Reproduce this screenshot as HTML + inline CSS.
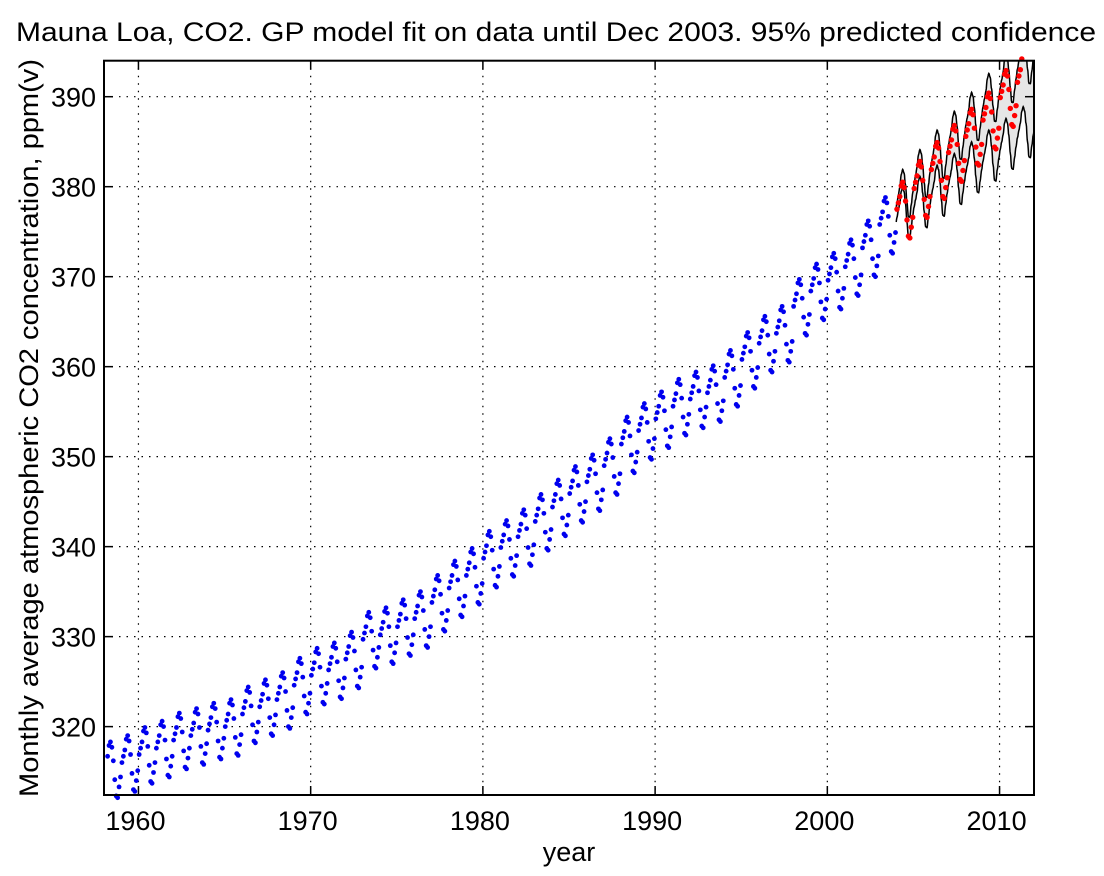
<!DOCTYPE html>
<html><head><meta charset="utf-8"><style>
body{margin:0;background:#fff;font-family:"Liberation Sans",sans-serif}
svg text{font-family:"Liberation Sans",sans-serif;fill:#000}
</style></head><body>
<svg id="chart" width="1104" height="871" viewBox="0 0 1104 871" xmlns="http://www.w3.org/2000/svg">
<text x="556" y="41" font-size="27" text-anchor="middle" textLength="1080" lengthAdjust="spacingAndGlyphs">Mauna Loa, CO2. GP model fit on data until Dec 2003. 95% predicted confidence</text>
<text x="569" y="861" font-size="27" text-anchor="middle">year</text>
<text transform="translate(38,428) rotate(-90)" font-size="27" text-anchor="middle" textLength="738" lengthAdjust="spacingAndGlyphs">Monthly average atmospheric CO2 concentration, ppm(v)</text>
<g id="grid"></g><g id="band"></g><g id="dots"></g><g id="axes"></g>
</svg>
<script>
const years=[1958,1959,1960,1961,1962,1963,1964,1965,1966,1967,1968,1969,1970,1971,1972,1973,1974,1975,1976,1977,1978,1979,1980,1981,1982,1983,1984,1985,1986,1987,1988,1989,1990,1991,1992,1993,1994,1995,1996,1997,1998,1999,2000,2001,2002,2003,2004,2005,2006,2007,2008,2009,2010,2011];
const annualMean=[315.3,316.0,316.9,317.6,318.5,319.0,319.6,320.0,321.4,322.2,323.0,324.6,325.7,326.3,327.5,329.7,330.2,331.1,332.0,333.8,335.4,336.8,338.7,339.9,341.1,342.8,344.4,345.9,347.2,349.0,351.4,352.9,354.2,355.6,356.4,357.1,358.8,360.8,362.6,363.7,366.7,368.4,369.6,371.1,373.2,375.8,377.5,379.8,381.9,383.8,385.6,387.4,389.9,391.6];
const seasonal=[0.0,0.7,1.4,2.6,3.0,2.4,0.9,-1.2,-3.0,-3.2,-2.0,-0.9];
const predYears=[2004,2005,2006,2007,2008,2009,2010,2011,2012];
const predMean=[377.3,379.0,380.7,382.4,384.1,385.8,387.5,389.2,390.9];
const predHalf=[0.8,1.3,1.8,2.2,2.6,3.0,3.4,3.8,4.2];
const xTicks=[1960,1970,1980,1990,2000,2010];
const yTicks=[320,330,340,350,360,370,380,390];
const X0=104,X1=1034,Y0=60.7,Y1=795,XMIN=1958,XMAX=2012,YMIN=312.4,YMAX=394.0;
const xs=v=>X0+(v-XMIN)/(XMAX-XMIN)*(X1-X0);
const ys=v=>Y1-(v-YMIN)/(YMAX-YMIN)*(Y1-Y0);
const NS='http://www.w3.org/2000/svg';
function mk(t,a,p){const e=document.createElementNS(NS,t);for(const k in a)e.setAttribute(k,a[k]);p.appendChild(e);return e;}
const grid=document.getElementById('grid'),band=document.getElementById('band'),dots=document.getElementById('dots'),axes=document.getElementById('axes');
xTicks.forEach(t=>{const x=xs(t);
 const g=mk('line',{x1:x,x2:x,y1:Y0,y2:Y1,stroke:'#000','stroke-width':1.2,'stroke-dasharray':'1.5 6'},grid);
 
 
 mk('line',{x1:x,x2:x,y1:Y1,y2:Y1-9,stroke:'#000','stroke-width':1.5},axes);
 mk('line',{x1:x,x2:x,y1:Y0,y2:Y0+9,stroke:'#000','stroke-width':1.5},axes);
 const l=mk('text',{x:x-3,y:Y1+35,'font-size':27,'text-anchor':'middle'},axes);l.textContent=t;
 
 });
yTicks.forEach(t=>{const y=ys(t);
 const g=mk('line',{x1:X0,x2:X1,y1:y,y2:y,stroke:'#000','stroke-width':1.2,'stroke-dasharray':'1.5 6'},grid);
 
 
 mk('line',{x1:X0,x2:X0+9,y1:y,y2:y,stroke:'#000','stroke-width':1.5},axes);
 mk('line',{x1:X1,x2:X1-9,y1:y,y2:y,stroke:'#000','stroke-width':1.5},axes);
 const l=mk('text',{x:X0-8,y:y+10,'font-size':27,'text-anchor':'end'},axes);l.textContent=t;
 
 });
const box=mk('rect',{x:X0,y:Y0,width:X1-X0,height:Y1-Y0,fill:'none',stroke:'#000','stroke-width':2},axes);


function interp(arr,xa,t){if(t<=xa[0])return arr[0];for(let i=0;i<xa.length-1;i++){if(t<=xa[i+1]){const f=(t-xa[i])/(xa[i+1]-xa[i]);return arr[i]+f*(arr[i+1]-arr[i]);}}return arr[arr.length-1];}
function seas(t){const m=(t-Math.floor(t))*12;const i=Math.floor(m),f=m-i;const a=seasonal[i%12],b=seasonal[(i+1)%12];const c=(1-Math.cos(Math.PI*f))/2;return a+c*(b-a);}
const up=[],lo=[];
for(let t=2004;t<=2012.001;t+=1/48){const m=interp(predMean,predYears,t)+seas(t-0.04),h=interp(predHalf,predYears,t);up.push([xs(t),ys(m+h)]);lo.push([xs(t),ys(m-h)]);}
const pts=a=>a.map(p=>p[0].toFixed(1)+','+p[1].toFixed(1)).join(' ');
const clip=mk('clipPath',{id:'pc'},band);mk('rect',{x:X0,y:Y0,width:X1-X0,height:Y1-Y0},clip);
const bg=mk('g',{'clip-path':'url(#pc)'},band);
const poly=mk('polygon',{points:pts(up.concat(lo.slice().reverse())),fill:'#e6e6e6',stroke:'none'},bg);


const u=mk('polyline',{points:pts(up),fill:'none',stroke:'#000','stroke-width':1.5},bg);


const lw=mk('polyline',{points:pts(lo),fill:'none',stroke:'#000','stroke-width':1.5},bg);


years.forEach((yr,i)=>{for(let m=0;m<12;m++){
 if(yr===1958&&m<2)continue; if(yr===2011&&m>3)continue;
 const t=yr+(m+0.5)/12;const v=annualMean[i]+seasonal[m];
 const red=yr>=2004;
 const c=mk('circle',{cx:xs(t),cy:ys(v),r:red?2.7:2.4,fill:red?'#ff0000':'#0000ee'},dots);
 
 }});
</script>
</body></html>
